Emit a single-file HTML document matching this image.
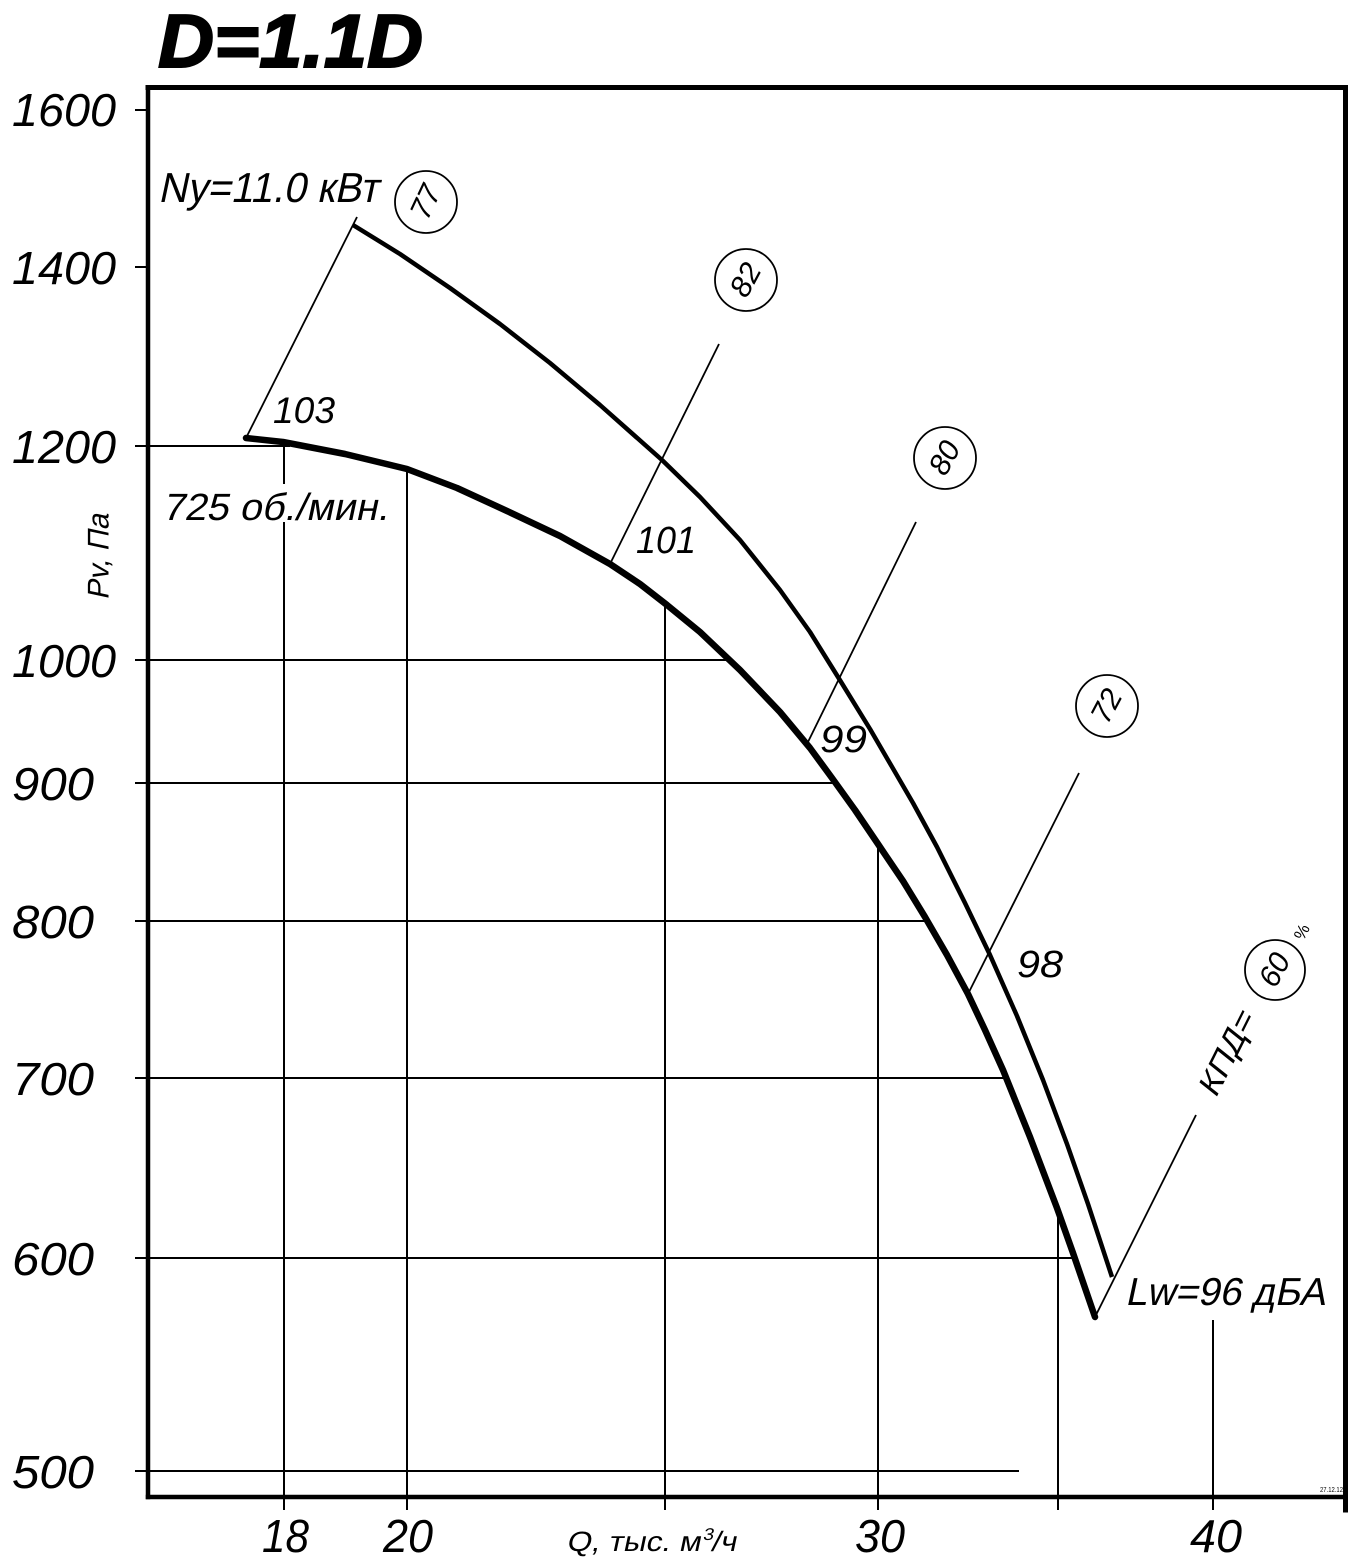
<!DOCTYPE html>
<html>
<head>
<meta charset="utf-8">
<style>
html,body{margin:0;padding:0;background:#fff;}
svg{display:block;}
text{font-family:"Liberation Sans","DejaVu Sans",sans-serif;fill:#000;}
.it{font-style:italic;}
</style>
</head>
<body>
<svg width="1354" height="1566" viewBox="0 0 1354 1566" xmlns="http://www.w3.org/2000/svg">
<rect width="1354" height="1566" fill="#fff"/>

<!-- Title -->
<text class="it" x="158" y="67" font-size="75" font-weight="bold" stroke="#000" stroke-width="2" textLength="265" lengthAdjust="spacingAndGlyphs">D=1.1D</text>

<!-- Frame -->
<g stroke="#000" fill="none" stroke-linecap="square">
<line x1="148" y1="87.5" x2="1345.5" y2="87.5" stroke-width="5"/>
<line x1="148" y1="87.5" x2="148" y2="1497" stroke-width="4.5"/>
<line x1="148" y1="1497" x2="1345.5" y2="1497" stroke-width="4.5"/>
<line x1="1345.5" y1="87.5" x2="1345.5" y2="1510" stroke-width="5"/>
</g>

<!-- Grid lines -->
<g stroke="#000" stroke-width="2" fill="none">
<line x1="135" y1="110" x2="148" y2="110"/>
<line x1="135" y1="267" x2="148" y2="267"/>
<line x1="135" y1="446" x2="290" y2="446"/>
<line x1="135" y1="660" x2="728" y2="660"/>
<line x1="135" y1="783" x2="836" y2="783"/>
<line x1="135" y1="921" x2="927" y2="921"/>
<line x1="135" y1="1078" x2="1006" y2="1078"/>
<line x1="135" y1="1258" x2="1072" y2="1258"/>
<line x1="135" y1="1471" x2="1019" y2="1471"/>

<line x1="284" y1="446" x2="284" y2="484"/>
<line x1="284" y1="522" x2="284" y2="1510"/>
<line x1="407" y1="470" x2="407" y2="1510"/>
<line x1="665" y1="605" x2="665" y2="1510"/>
<line x1="878" y1="844" x2="878" y2="1510"/>
<line x1="1058" y1="1210" x2="1058" y2="1510"/>
<line x1="1213" y1="1320" x2="1213" y2="1510"/>
</g>

<!-- Parameter lines -->
<g stroke="#000" stroke-width="1.8" fill="none">
<line x1="246" y1="438" x2="357" y2="217"/>
<line x1="610" y1="564" x2="719" y2="344"/>
<line x1="807" y1="744" x2="916" y2="522"/>
<line x1="968" y1="994" x2="1079" y2="773"/>
<line x1="1095" y1="1317" x2="1196" y2="1115"/>
</g>

<!-- Lower curve -->
<polyline fill="none" stroke="#000" stroke-width="6.5" stroke-linejoin="round" stroke-linecap="round"
points="246,438 283,442 345,454 407,469 457,488 507,511 560,536 610,564 640,584 667,605 700,632 740,670 780,712 810,748 832,778 855,810 878,844 903,881 925,917 947,955 968,994 985,1030 1003,1070 1030,1137 1057,1208 1073,1253 1095,1317"/>

<!-- Upper curve -->
<polyline fill="none" stroke="#000" stroke-width="4.5" stroke-linejoin="round" stroke-linecap="butt"
points="353,225 400,254 450,288 500,324 550,363 600,405 662,460 700,497 740,540 780,590 810,632 838,677 870,729 913,803 937,847 965,903 990,955 1017,1016 1043,1080 1067,1144 1088,1204 1112,1277"/>

<!-- Circles -->
<g stroke="#000" stroke-width="1.8" fill="#fff">
<circle cx="426" cy="202" r="31"/>
<circle cx="746" cy="280" r="31"/>
<circle cx="945" cy="458" r="31"/>
<circle cx="1107" cy="706" r="31"/>
<circle cx="1275" cy="970" r="30"/>
</g>
<g font-size="30" text-anchor="middle" dominant-baseline="central" class="it">
<text x="426" y="202" transform="rotate(-65 426 202)">77</text>
<text x="746" y="280" transform="rotate(-62 746 280)">82</text>
<text x="945" y="458" transform="rotate(-62 945 458)">80</text>
<text x="1107" y="706" transform="rotate(-62 1107 706)">72</text>
<text x="1275" y="970" transform="rotate(-62 1275 970)">60</text>
</g>
<text x="1302" y="932" font-size="17" text-anchor="middle" dominant-baseline="central" transform="rotate(-63 1302 932)">%</text>
<text x="0" y="0" font-size="32" dominant-baseline="central" transform="translate(1207,1092) rotate(-63.4) skewX(-12)" textLength="90" lengthAdjust="spacingAndGlyphs">КПД=</text>

<!-- Labels -->
<text x="0" y="0" font-size="42" transform="translate(158,202) skewX(-12)" textLength="220" lengthAdjust="spacingAndGlyphs">Ny=11.0 кВт</text>
<text class="it" x="273" y="423" font-size="37" textLength="62" lengthAdjust="spacingAndGlyphs">103</text>
<text x="0" y="0" font-size="38" transform="translate(162,520) skewX(-12)" textLength="226" lengthAdjust="spacingAndGlyphs">725 об./мин.</text>
<text class="it" x="636" y="553" font-size="38" textLength="60" lengthAdjust="spacingAndGlyphs">101</text>
<text class="it" x="820" y="752" font-size="38" textLength="47" lengthAdjust="spacingAndGlyphs">99</text>
<text class="it" x="1017" y="977" font-size="38" textLength="46" lengthAdjust="spacingAndGlyphs">98</text>
<text x="0" y="0" font-size="39" transform="translate(1125,1305) skewX(-12)" textLength="200" lengthAdjust="spacingAndGlyphs">Lw=96 дБА</text>

<!-- Y axis labels -->
<g font-size="46" class="it">
<text x="12" y="126" textLength="104" lengthAdjust="spacingAndGlyphs">1600</text>
<text x="12" y="284" textLength="104" lengthAdjust="spacingAndGlyphs">1400</text>
<text x="12" y="463" textLength="104" lengthAdjust="spacingAndGlyphs">1200</text>
<text x="12" y="677" textLength="104" lengthAdjust="spacingAndGlyphs">1000</text>
<text x="12" y="800" textLength="82" lengthAdjust="spacingAndGlyphs">900</text>
<text x="12" y="938" textLength="82" lengthAdjust="spacingAndGlyphs">800</text>
<text x="12" y="1095" textLength="82" lengthAdjust="spacingAndGlyphs">700</text>
<text x="12" y="1275" textLength="82" lengthAdjust="spacingAndGlyphs">600</text>
<text x="12" y="1488" textLength="82" lengthAdjust="spacingAndGlyphs">500</text>
</g>

<!-- X axis labels -->
<g font-size="46" class="it">
<text x="262" y="1552" textLength="47" lengthAdjust="spacingAndGlyphs">18</text>
<text x="383" y="1552" textLength="50" lengthAdjust="spacingAndGlyphs">20</text>
<text x="855" y="1552" textLength="50" lengthAdjust="spacingAndGlyphs">30</text>
<text x="1190" y="1552" textLength="52" lengthAdjust="spacingAndGlyphs">40</text>
</g>

<text x="0" y="0" font-size="28" transform="translate(566,1551) skewX(-12)" textLength="170" lengthAdjust="spacingAndGlyphs">Q, тыс. м<tspan font-size="17" dy="-11">3</tspan><tspan dy="11">/ч</tspan></text>

<text x="0" y="0" font-size="30" text-anchor="middle" dominant-baseline="central" transform="translate(99,555) rotate(-90) skewX(-12)" textLength="86" lengthAdjust="spacingAndGlyphs">Pv, Па</text>

<text x="1320" y="1492" font-size="7" textLength="23" lengthAdjust="spacingAndGlyphs">27.12.12</text>
</svg>
</body>
</html>
